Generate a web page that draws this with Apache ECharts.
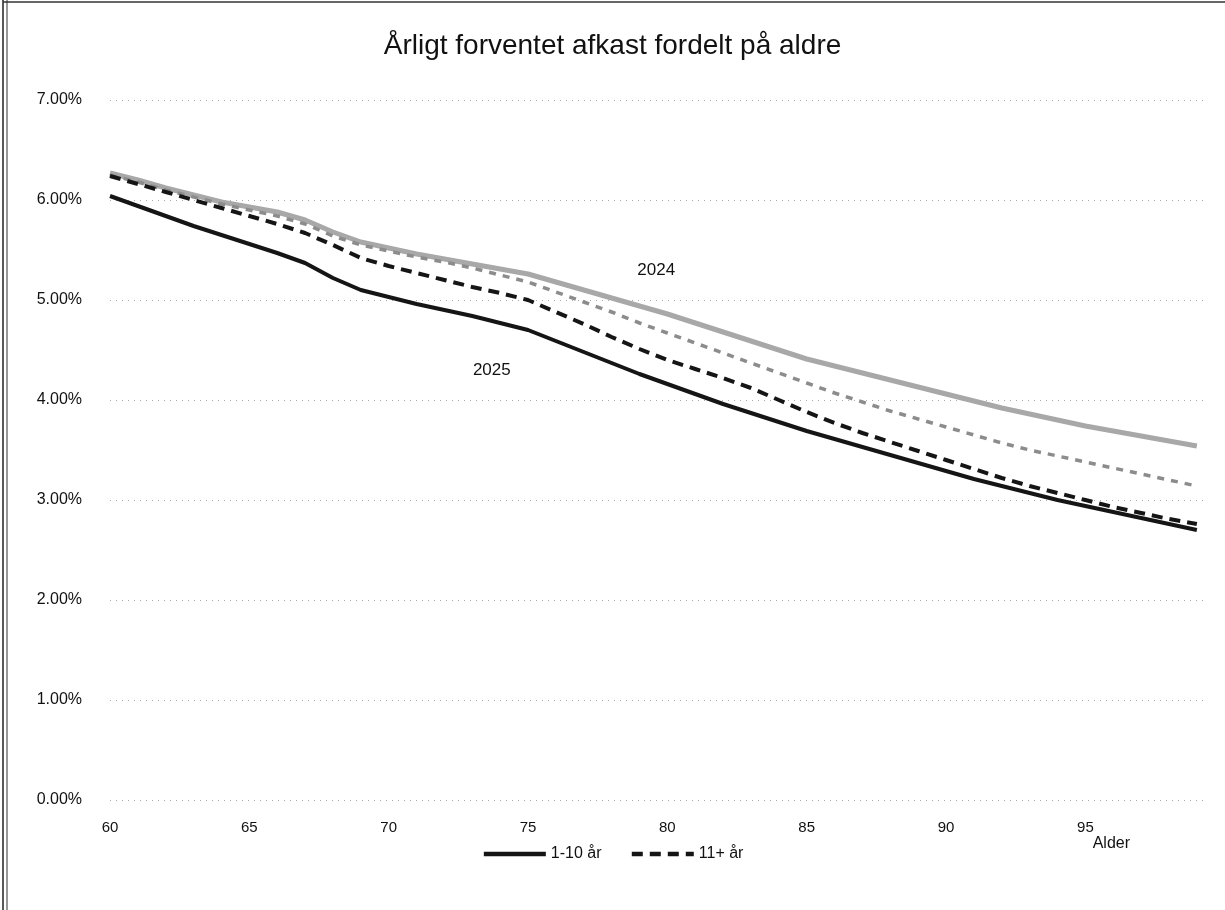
<!DOCTYPE html>
<html>
<head>
<meta charset="utf-8">
<script src="https://cdn.jsdelivr.net/npm/echarts@6/dist/echarts.min.js"></script>
<style>
html,body{margin:0;padding:0;background:#fff;}
#chart{width:1225px;height:910px;}
</style>
</head>
<body>
<div id="chart"></div>
<script>
const ages = [60,61,62,63,64,65,66,67,68,69,70,71,72,73,74,75,76,77,78,79,80,81,82,83,84,85,86,87,88,89,90,91,92,93,94,95,96,97,98,99];
const y2025_1_10 = [6.04,5.94,5.84,5.74,5.65,5.56,5.47,5.37,5.22,5.10,5.03,4.96,4.90,4.84,4.77,4.70,4.59,4.48,4.37,4.26,4.16,4.06,3.96,3.87,3.78,3.69,3.61,3.53,3.45,3.37,3.29,3.21,3.14,3.07,3.00,2.94,2.88,2.82,2.76,2.70];
const y2025_11 = [6.24,6.16,6.08,6.00,5.92,5.84,5.76,5.67,5.55,5.42,5.34,5.27,5.20,5.13,5.07,5.00,4.88,4.76,4.63,4.51,4.40,4.31,4.22,4.12,4.00,3.88,3.77,3.67,3.58,3.49,3.40,3.31,3.22,3.14,3.07,3.00,2.93,2.87,2.81,2.76];
const y2024_1_10 = [6.27,6.20,6.12,6.05,5.98,5.93,5.88,5.80,5.68,5.58,5.52,5.46,5.41,5.36,5.31,5.26,5.18,5.10,5.02,4.94,4.86,4.77,4.68,4.59,4.50,4.41,4.34,4.27,4.20,4.13,4.06,3.99,3.92,3.86,3.80,3.74,3.69,3.64,3.59,3.54];
const y2024_11 = [6.25,6.18,6.10,6.03,5.96,5.90,5.84,5.76,5.64,5.55,5.49,5.43,5.38,5.32,5.25,5.18,5.08,4.98,4.88,4.77,4.67,4.57,4.47,4.37,4.27,4.17,4.07,3.98,3.89,3.81,3.73,3.65,3.57,3.50,3.44,3.38,3.32,3.26,3.20,3.14];
const legendNames = ['1-10 år', '11+ år'];
const annotations = [
  {text: '2024', age: 79.6, value: 5.30},
  {text: '2025', age: 73.7, value: 4.30}
];
const titleText = 'Årligt forventet afkast fordelt på aldre';
const xAxisTitle = 'Alder';

function pairs(arr){ return ages.map((a,i)=>[a, arr[i]]); }

const chart = echarts.init(document.getElementById('chart'), null, {renderer:'canvas'});
const FONT = "'Liberation Sans', Arial, sans-serif";
chart.setOption({
  animation: false,
  backgroundColor: '#fff',
  title: {
    text: titleText, left: 'center', top: 27,
    textStyle: {fontFamily: FONT, fontSize: 28, fontWeight: 'normal', color: '#111'}
  },
  grid: {left: 110, right: 17, top: 100, bottom: 110},
  legend: {
    data: legendNames.map(n => ({name: n, itemStyle: {opacity: 0}, lineStyle: {width: 4.5}})),
    bottom: 43, left: 'center',
    itemWidth: 62, itemHeight: 12, itemGap: 28,
    textStyle: {fontFamily: FONT, fontSize: 16, color: '#111'}
  },
  xAxis: {
    type: 'value', min: 60, max: 99.4, interval: 5,
    axisLine: {show: false}, axisTick: {show: false}, splitLine: {show: false},
    axisLabel: {showMaxLabel: false, margin: 20, fontFamily: FONT, fontSize: 15, color: '#111'}
  },
  yAxis: {
    type: 'value', min: 0, max: 7, interval: 1,
    axisLine: {show: false}, axisTick: {show: false},
    splitLine: {lineStyle: {color: '#aaa', width: 1, type: [1, 5]}},
    axisLabel: {margin: 28, fontFamily: FONT, fontSize: 16, color: '#111', formatter: v => v.toFixed(2) + '%'}
  },
  graphic: [
    {type: 'text', right: 95, top: 836, style: {text: xAxisTitle, font: "16px 'Liberation Sans', sans-serif", fill: '#111'}},
    {type: 'line', shape: {x1: 3, y1: 0, x2: 3, y2: 910}, style: {stroke: '#222', lineWidth: 1.5}},
    {type: 'line', shape: {x1: 7, y1: 0, x2: 7, y2: 910}, style: {stroke: '#333', lineWidth: 1}},
    {type: 'line', shape: {x1: 3, y1: 2, x2: 1225, y2: 2}, style: {stroke: '#333', lineWidth: 1.5}}
  ],
  series: [
    {name: '1-10 år 2024', type: 'line', data: pairs(y2024_1_10), symbol: 'none', z: 2,
     lineStyle: {color: '#a8a8a8', width: 5}},
    {name: '11+ år 2024', type: 'line', data: pairs(y2024_11), symbol: 'none', z: 3,
     lineStyle: {color: '#8c8c8c', width: 3.5, type: [7, 7]},
     markPoint: {symbol: 'circle', symbolSize: 0,
       label: {show: true, formatter: p => p.name, fontFamily: FONT, fontSize: 17, color: '#111'},
       data: annotations.map(a => ({name: a.text, coord: [a.age, a.value]}))}},
    {name: '1-10 år', type: 'line', data: pairs(y2025_1_10), symbol: 'none', z: 4,
     lineStyle: {color: '#151515', width: 4}},
    {name: '11+ år', type: 'line', data: pairs(y2025_11), symbol: 'none', z: 5,
     lineStyle: {color: '#151515', width: 4, type: [11, 7]}}
  ]
});
</script>
</body>
</html>
